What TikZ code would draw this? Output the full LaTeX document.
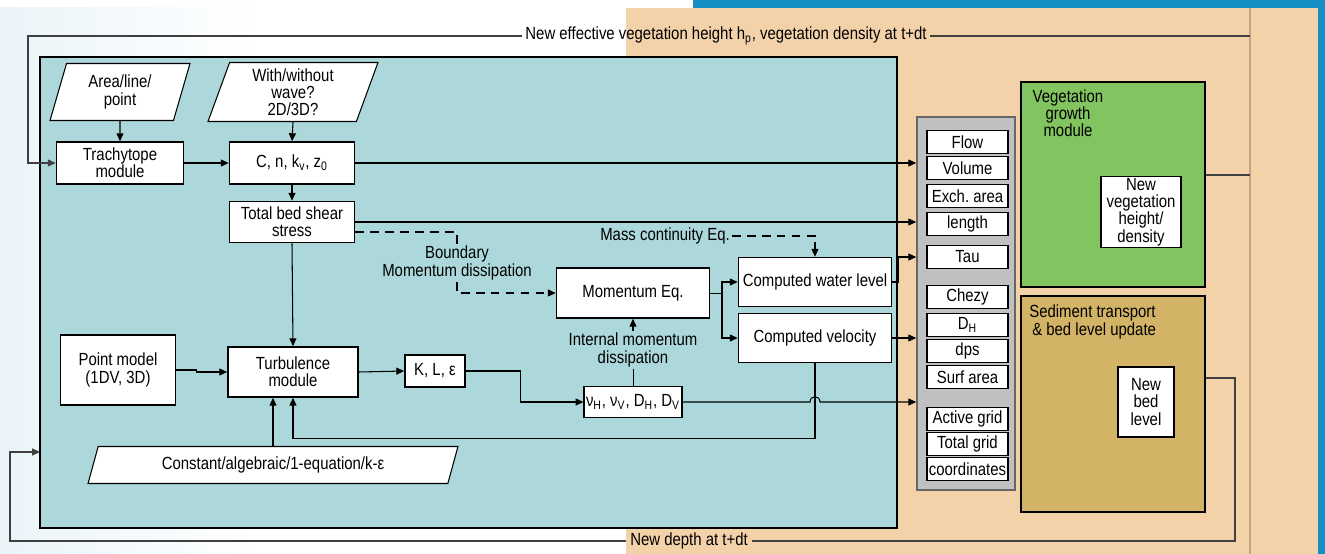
\documentclass[tikz,border=0pt]{standalone}
\usepackage{fontspec}
\setmainfont{Liberation Sans}[FakeStretch=0.85]
\usetikzlibrary{arrows.meta,shapes.geometric}
\definecolor{tealbg}{RGB}{173,216,219}
\definecolor{orangebg}{RGB}{243,210,169}
\definecolor{leafgreen}{RGB}{130,196,96}
\definecolor{sandbrown}{RGB}{211,180,102}
\definecolor{panelgrey}{RGB}{192,192,192}
\definecolor{barblue}{RGB}{22,143,196}
\definecolor{paleblue}{RGB}{234,244,248}
\definecolor{edgebrown}{RGB}{196,164,132}

\begin{document}
\begin{tikzpicture}[x=0.02cm, y=-0.02cm, font=\fontsize{10}{9.8}\selectfont,
    box/.style={draw, fill=white, line width=0.9pt, align=center, inner sep=1pt},
    item/.style={box, minimum width=1.62cm, minimum height=0.46cm},
    slanted/.style={trapezium, trapezium stretches body, draw, fill=white, line width=0.6pt, align=center, inner sep=1pt},
    arr/.style={-{Triangle[length=4.5pt,width=4pt]}, line width=0.6pt},
    dsh/.style={line width=1.2pt, dash pattern=on 5pt off 3.5pt},
    fb/.style={line width=0.8pt, black!75}]
    \useasboundingbox (0,0) rectangle (1325,554);

    % Backgrounds
    \fill[white] (0,0) rectangle (1325,554);
    \shade[left color=paleblue, right color=white] (0,8) rectangle (260,554);
    \fill[orangebg] (626,8) rectangle (1318,554);
    \draw[edgebrown, line width=0.6pt] (1250,8) -- (1250,554);
    \fill[barblue] (693,0) rectangle (1325,8);
    \fill[barblue] (1318,0) rectangle (1325,554);

    % Hydrodynamic part
    \node[draw, fill=tealbg, line width=0.9pt, minimum width=17.14cm, minimum height=9.42cm, inner sep=0pt] (hydro) at (468.5,292.5) {};

    % Inputs
    \node[slanted, trapezium left angle=66, trapezium right angle=114, minimum width=2.8cm, minimum height=1.14cm] (area) at (120,92) {Area/line/\\point};
    \node[slanted, trapezium left angle=67, trapezium right angle=113, minimum width=3.4cm, minimum height=1.18cm] (wave) at (293,92) {With/without\\wave?\\2D/3D?};
    \node[slanted, trapezium left angle=63, trapezium right angle=117, minimum width=7.4cm, minimum height=0.74cm] (closure) at (273,465) {Constant/algebraic/1-equation/k-ε};

    % Modules
    \node[box, minimum width=2.54cm, minimum height=0.84cm] (trachy) at (120,163) {Trachytope\\module};
    \node[box, minimum width=2.5cm, minimum height=0.84cm] (cnk) at (292,163) {C, n, k\textsubscript{v}, z\textsubscript{0}};
    \node[box, minimum width=2.5cm, minimum height=0.82cm] (shear) at (292,222) {Total bed shear\\stress};
    \node[box, minimum width=2.6cm, minimum height=1.0cm] (turb) at (293,372) {Turbulence\\module};
    \node[box, minimum width=2.3cm, minimum height=1.4cm] (point) at (118,370) {Point model\\(1DV, 3D)};
    \node[box, minimum width=1.2cm, minimum height=0.64cm] (kle) at (435,371) {K, L, ε};
    \node[box, minimum width=1.94cm, minimum height=0.62cm] (nu) at (633,402) {ν\textsubscript{H}, ν\textsubscript{V}, D\textsubscript{H}, D\textsubscript{V}};
    \node[box, minimum width=3.06cm, minimum height=1.0cm] (momeq) at (633,293) {Momentum Eq.};
    \node[box, minimum width=3.06cm, minimum height=0.98cm] (cwl) at (815,282) {Computed water level};
    \node[box, minimum width=3.06cm, minimum height=0.98cm] (cv) at (815,338) {Computed velocity};

    % Labels
    \node[align=center, inner sep=1pt] (bnd) at (457,263) {Boundary\\Momentum dissipation};
    \node[inner sep=1pt] (mass) at (665,236) {Mass continuity Eq.};
    \node[align=center, inner sep=1pt] (imd) at (633,350) {Internal momentum\\dissipation};

    % Data store
    \node[draw=black!60, fill=panelgrey, line width=0.9pt, minimum width=1.96cm, minimum height=7.46cm, inner sep=0pt] (store) at (966,303.5) {};
    \foreach \name/\y/\txt in {flow/142/Flow, volume/168/Volume, exch/196/Exch.\ area, length/224/length,
        tau/257/Tau, chezy/297/Chezy, dh/325/D\textsubscript{H}, dps/351/dps, surf/377/Surf area,
        active/419/Active grid, total/444/Total grid, coords/469/coordinates} {
        \node[item] (\name) at (967.5,\y) {\txt};
    }

    % Vegetation and sediment modules
    \node[draw, fill=leafgreen, line width=0.9pt, minimum width=3.68cm, minimum height=4.1cm, inner sep=0pt] (veg) at (1113,184.5) {};
    \node[align=center, inner sep=0pt] at (1068,113) {Vegetation\\growth\\module};
    \node[box, minimum width=1.6cm, minimum height=1.36cm] (newveg) at (1141,212) {New\\vegetation\\height/\\density};
    \node[draw, fill=sandbrown, line width=0.9pt, minimum width=3.68cm, minimum height=4.32cm, inner sep=0pt] (sed) at (1113,404) {};
    \node[anchor=west, align=left, inner sep=0pt] at (1029,322) {Sediment transport\\\,\& bed level update};
    \node[box, minimum width=1.12cm, minimum height=1.4cm] (newbed) at (1146,402) {New\\bed\\level};

    % Feedback loops
    \node[inner sep=2pt] (vegtxt) at (726,36) {New effective vegetation height h\textsubscript{p}, vegetation density at t+dt};
    \node[inner sep=2pt] (depth) at (689,541) {New depth at t+dt};
    \coordinate (fbTL) at (28,36);
    \coordinate (fbBL) at (10,541);
    \coordinate (tealin) at (40,452);
    \coordinate (vegout) at (1250,175);
    \coordinate (sedout) at (1235,378);
    \draw[fb, arr] (vegtxt.west) -- (fbTL) |- (trachy.west);
    \draw[fb] (vegtxt.east) -- (vegtxt.east -| vegout);
    \draw[fb] (vegout -| veg.east) -- (vegout);
    \draw[fb] (sedout -| sed.east) -- (sedout) |- (depth.east);
    \draw[fb, arr] (depth.west) -- (fbBL) |- (tealin);

    % Connectors inside
    \draw[arr] (area.south) -- (trachy.north);
    \draw[arr] (wave.south) -- (cnk.north);
    \draw[arr] (trachy.east) -- (cnk.west);
    \draw[arr] (cnk.south) -- (shear.north);
    \draw[arr] (shear.south) -- (turb.north);
    \draw[arr] (point.east) -- ++(20,0) |- (turb.west);
    \draw[arr] (closure.north) -- (closure.north |- turb.south);
    \draw[arr] (turb.east) -- (kle.west);
    \draw[arr] (kle.east) -- ++(55,0) |- (nu.west);
    \draw (nu.north) -- (imd.south);
    \draw[arr] (imd.north) -- (momeq.south);
    \draw[dsh] ([yshift=-0.2cm]shear.east) -| (bnd.north);
    \draw[dsh, arr] (bnd.south) |- (momeq.west);
    \draw[dsh, arr] (mass.east) -| (cwl.north);
    \coordinate (split) at (722,293);
    \draw (momeq.east) -- (split);
    \draw[arr] (split) |- (cwl.west);
    \draw[arr] (split) |- (cv.west);
    \draw[arr] (cv.south) -- ++(0,75) -| (turb.south);

    % Outputs to the data store
    \coordinate (hop) at (815,402);
    \draw[arr] (cnk.east) -- (cnk.east -| store.west);
    \draw[arr] (shear.east) -- (shear.east -| store.west);
    \draw[arr] (cwl.east) -- ++(6,0) |- (store.west |- tau);
    \draw[arr] (cv.east) -- (cv.east -| store.west);
    \draw[arr] (nu.east) -- ([xshift=-0.1cm]hop) .. controls +(0,0.14cm) and +(0,0.14cm) .. ([xshift=0.1cm]hop) -- (store.west |- hop);
\end{tikzpicture}
\end{document}
